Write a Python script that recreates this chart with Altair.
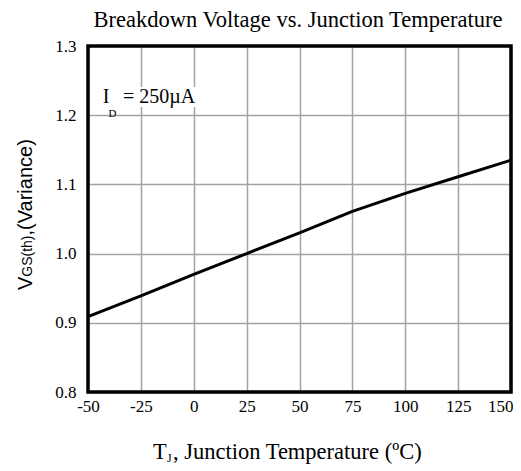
import altair as alt
import pandas as pd

# Data
temps = [-50, -25, 0, 25, 50, 75, 100, 125, 150]
vgs = [0.909, 0.939, 0.970, 1.000, 1.030, 1.061, 1.087, 1.111, 1.135]

x_domain = [-50, 150]
y_domain = [0.8, 1.3]
x_ticks = [-50, -25, 0, 25, 50, 75, 100, 125, 150]
y_ticks = [0.8, 0.9, 1.0, 1.1, 1.2, 1.3]

title_text = "Breakdown Voltage vs. Junction Temperature"
x_title_parts = ["T", "J", ", Junction Temperature (\u00baC)"]
y_title_parts = ["V", "GS(th)", ",(Variance)"]
annot_main = ["I", "= 250\u00b5A"]
annot_sub = ["D"]

SERIF = "Liberation Serif"
SANS = "Liberation Sans"

df = pd.DataFrame({"T": temps, "V": vgs})

x_scale = alt.Scale(domain=x_domain, nice=False, zero=False)
y_scale = alt.Scale(domain=y_domain, nice=False, zero=False)

grid_kw = dict(grid=True, gridColor="#a3a3a3", gridWidth=1.5, domain=False,
               ticks=False, labelFont=SERIF, labelColor="black", title=None,
               labelFlush=False)

last_x = x_ticks[-1]
line = alt.Chart(df).mark_line(color="black", strokeWidth=3).encode(
    x=alt.X("T:Q", scale=x_scale,
            axis=alt.Axis(values=x_ticks, labelFontSize=17, labelPadding=6,
                          labelAlign=alt.expr(f"datum.value == {last_x} ? 'right' : 'center'"),
                          labelOffset=alt.expr(f"datum.value == {last_x} ? 2 : 0"),
                          labelExpr="'' + datum.value", **grid_kw)),
    y=alt.Y("V:Q", scale=y_scale,
            axis=alt.Axis(values=y_ticks, format=".1f", labelFontSize=17,
                          labelPadding=12, **grid_kw)),
)

# plot frame along the axis domains
frame_df = pd.DataFrame({"x": [x_domain[0]], "x2": [x_domain[1]],
                         "y": [y_domain[0]], "y2": [y_domain[1]]})
frame = alt.Chart(frame_df).mark_rect(fill=None, stroke="black", strokeWidth=3.5).encode(
    x=alt.X("x:Q", scale=x_scale), x2="x2:Q",
    y=alt.Y("y:Q", scale=y_scale), y2="y2:Q")

# white box behind the annotation value
box_df = pd.DataFrame({"x": [-34.5], "x2": [1.0], "y": [1.2408], "y2": [1.2119]})
box = alt.Chart(box_df).mark_rect(color="white").encode(
    x=alt.X("x:Q", scale=x_scale), x2="x2:Q",
    y=alt.Y("y:Q", scale=y_scale), y2="y2:Q")

# annotation I_D = 250uA (data coordinates)
ann_main_df = pd.DataFrame({"x": [-43.0, -33.5], "y": [1.2176, 1.2176],
                            "t": annot_main})
ann_sub_df = pd.DataFrame({"x": [-40.3], "y": [1.1974], "t": annot_sub})

ann_main = alt.Chart(ann_main_df).mark_text(
    font=SERIF, fontSize=20, align="left", baseline="alphabetic", color="black"
).encode(x=alt.X("x:Q", scale=x_scale), y=alt.Y("y:Q", scale=y_scale), text="t:N")

ann_sub = alt.Chart(ann_sub_df).mark_text(
    font=SERIF, fontSize=11, align="left", baseline="alphabetic", color="black"
).encode(x=alt.X("x:Q", scale=x_scale), y=alt.Y("y:Q", scale=y_scale), text="t:N")


def txt(s, x, y, size, font, angle=0, align="left"):
    return alt.Chart(pd.DataFrame({"t": [s]})).mark_text(
        font=font, fontSize=size, align=align, baseline="alphabetic",
        color="black", angle=angle
    ).encode(x=alt.value(x), y=alt.value(y), text="t:N")

# chart title
ttl = txt(title_text, 210, -19, 22.5, SERIF, align="center")

# x-axis title with subscript
xt1 = txt(x_title_parts[0], 65, 413, 22.5, SERIF)
xt2 = txt(x_title_parts[1], 79, 416, 12, SERIF)
xt3 = txt(x_title_parts[2], 85, 413, 22.5, SERIF)

# y-axis title (rotated, bottom to top)
yt1 = txt(y_title_parts[0], -56, 244, 20, SANS, angle=270)
yt2 = txt(y_title_parts[1], -56, 230.7, 14, SANS, angle=270)
yt3 = txt(y_title_parts[2], -56, 189.5, 20, SANS, angle=270)

chart = alt.layer(box, line, frame, ann_main, ann_sub, ttl, xt1, xt2, xt3,
                  yt1, yt2, yt3).properties(
    width=423, height=346,
    autosize=alt.AutoSizeParams(type="none"),
    padding={"left": 80, "top": 38, "right": 2, "bottom": 78},
).configure(background="white").configure_view(stroke=None)

chart.save("out.html", embed_options={"renderer": "svg", "actions": False})
